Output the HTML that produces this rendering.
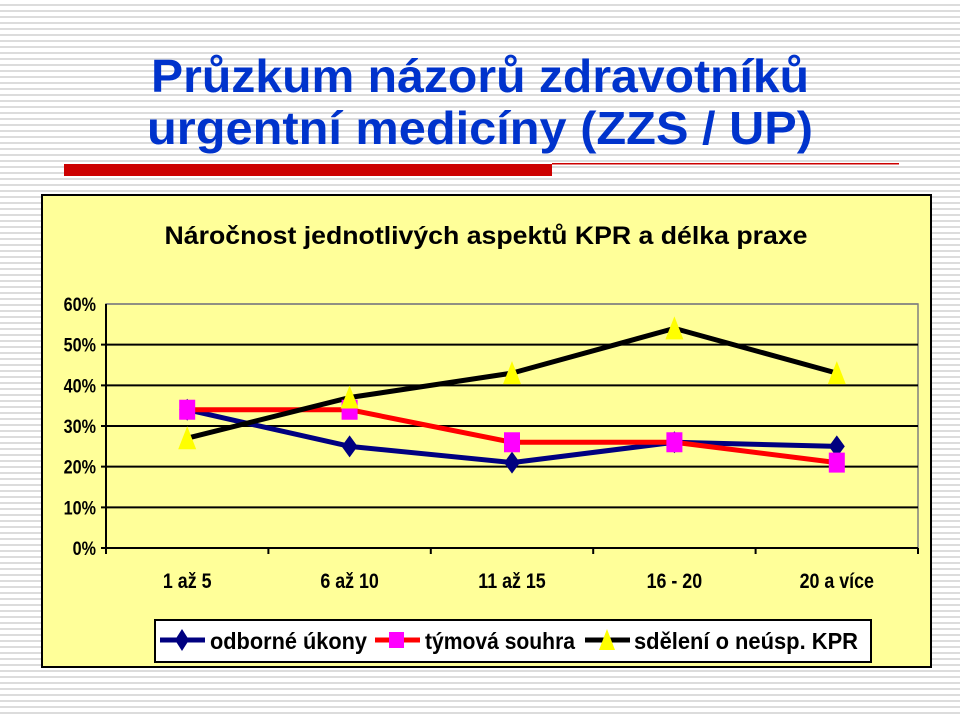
<!DOCTYPE html>
<html><head><meta charset="utf-8"><style>
html,body{margin:0;padding:0;width:960px;height:717px;overflow:hidden;}
body{background:repeating-linear-gradient(to bottom,#fff 0px,#fff 4px,#dcdcdc 4px,#dcdcdc 6px);}
svg{position:absolute;left:0;top:0;font-family:"Liberation Sans",sans-serif;}
</style></head><body>
<svg width="960" height="717">
<text x="480" y="92" text-anchor="middle" font-size="46" font-weight="bold" fill="#0033cc" textLength="658" lengthAdjust="spacingAndGlyphs">Průzkum názorů zdravotníků</text>
<text x="480" y="144" text-anchor="middle" font-size="46" font-weight="bold" fill="#0033cc" textLength="666" lengthAdjust="spacingAndGlyphs">urgentní medicíny (ZZS / UP)</text>
<rect x="64" y="164" width="488" height="12" fill="#cc0000"/>
<rect x="552" y="163" width="347" height="1.5" fill="#cc0000"/>
<rect x="42" y="195" width="889" height="472" fill="#ffff99" stroke="#000" stroke-width="2"/>
<text x="486" y="244" text-anchor="middle" font-size="25" font-weight="bold" fill="#000" textLength="643" lengthAdjust="spacingAndGlyphs">Náročnost jednotlivých aspektů KPR a délka praxe</text>
<g id="plot"></g>
<g>
<rect x="155" y="620" width="716" height="42" fill="#fff" stroke="#000" stroke-width="2"/>
<g>
<line x1="160" y1="640" x2="205" y2="640" stroke="#000080" stroke-width="5"/>
<path d="M182,629 L189,640 L182,651 L175,640Z" fill="#000080"/>
<text x="210" y="649" font-size="23" font-weight="bold" fill="#000" textLength="157" lengthAdjust="spacingAndGlyphs">odborné úkony</text></g>
<g>
<line x1="375" y1="640" x2="420" y2="640" stroke="#ff0000" stroke-width="5"/>
<rect x="389" y="632" width="15" height="16" fill="#ff00ff"/>
<text x="425" y="649" font-size="23" font-weight="bold" fill="#000" textLength="150" lengthAdjust="spacingAndGlyphs">týmová souhra</text></g>
<g>
<line x1="585" y1="640" x2="630" y2="640" stroke="#000" stroke-width="5"/>
<path d="M607,629 L615,650 L599,650Z" fill="#ffff00"/>
<text x="634" y="649" font-size="23" font-weight="bold" fill="#000" textLength="224" lengthAdjust="spacingAndGlyphs">sdělení o neúsp. KPR</text></g>
</g>
</svg>
<script>
const categories=["1 až 5","6 až 10","11 až 15","16 - 20","20 a více"];
const odborne=[34,25,21,26,25];
const tymova=[34,34,26,26,21];
const sdeleni=[27,37,43,54,43];
const yTicks=[0,10,20,30,40,50,60];
const NS="http://www.w3.org/2000/svg";
const g=document.getElementById('plot');
const L=106,R=918,T=304,B=548,YMAX=60;
const xS=i=>L+(R-L)/categories.length*(i+0.5);
const yS=v=>B-(B-T)*v/YMAX;
function mk(t,a){const e=document.createElementNS(NS,t);for(const k in a)e.setAttribute(k,a[k]);g.appendChild(e);return e;}
mk('rect',{x:L,y:T,width:R-L,height:B-T,fill:'none',stroke:'#808080','stroke-width':1.5});
yTicks.forEach(v=>{
 const y=yS(v);
 const ln=mk('line',{x1:v===YMAX?L:L-5,x2:R,y1:y,y2:y,stroke:v===YMAX?'#808080':'#000','stroke-width':v===YMAX?1.5:2});
 
 
 const t=mk('text',{x:L-10,y:y+7,'text-anchor':'end','font-size':19,'font-weight':'bold',fill:'#000',transform:`translate(${L-10},0) scale(0.85,1) translate(${-(L-10)},0)`});
 t.textContent=v+'%';
 
 
});
mk('line',{x1:L,x2:L,y1:T,y2:B,stroke:'#000','stroke-width':2});
for(let i=0;i<=categories.length;i++){const x=L+(R-L)/categories.length*i;mk('line',{x1:x,x2:x,y1:B,y2:B+6,stroke:'#000','stroke-width':2});}
categories.forEach((c,i)=>{
 const x=xS(i);
 const t=mk('text',{x:x,y:B+40,'text-anchor':'middle','font-size':21,'font-weight':'bold',fill:'#000',transform:`translate(${x},0) scale(0.85,1) translate(${-x},0)`});
 t.textContent=c;
 
 
});
function series(vals,color,name){
 const p=mk('polyline',{points:vals.map((v,i)=>xS(i)+','+yS(v)).join(' '),fill:'none',stroke:color,'stroke-width':5,'stroke-linejoin':'round'});
 
 
}
series(odborne,'#000080','odborne');
series(tymova,'#ff0000','tymova');
series(sdeleni,'#000','sdeleni');
odborne.forEach((v,i)=>{const x=xS(i),y=yS(v);
 const m=mk('path',{d:`M${x},${y-11} L${x+8},${y} L${x},${y+11} L${x-8},${y}Z`,fill:'#000080'});
 
 });
tymova.forEach((v,i)=>{const x=xS(i),y=yS(v);
 const m=mk('rect',{x:x-8,y:y-10,width:16,height:20,fill:'#ff00ff'});
 
 });
sdeleni.forEach((v,i)=>{const x=xS(i),y=yS(v);
 const m=mk('path',{d:`M${x},${y-12} L${x+9},${y+11} L${x-9},${y+11}Z`,fill:'#ffff00'});
 
 });
</script>
</body></html>
